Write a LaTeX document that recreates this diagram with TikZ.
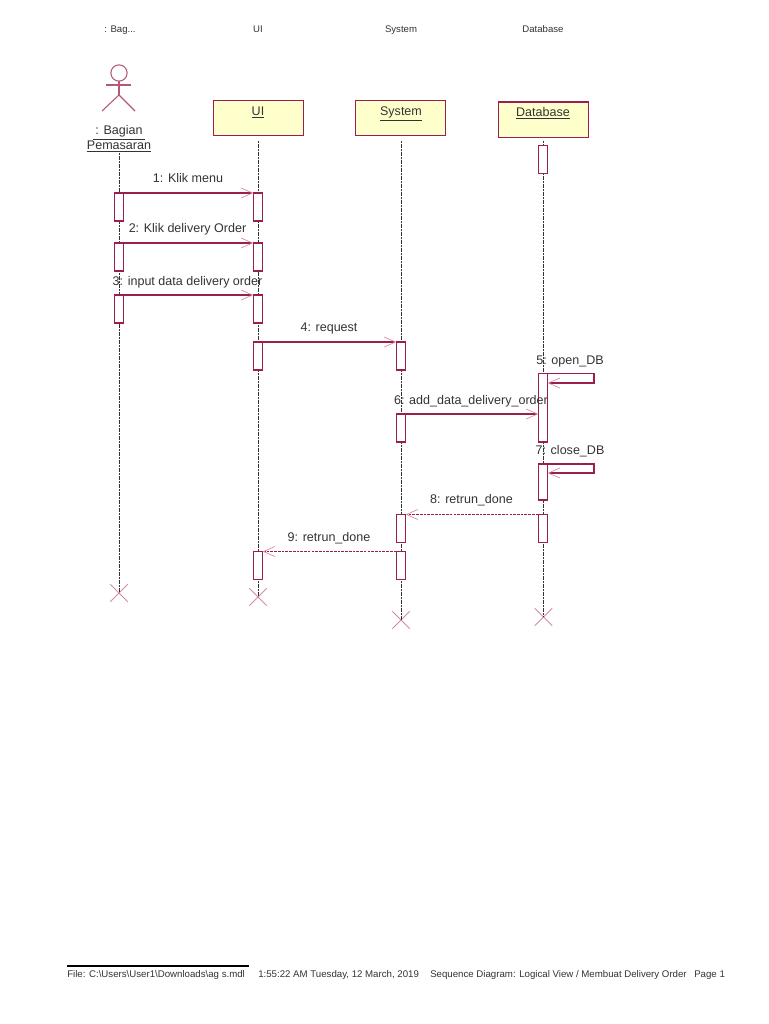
\documentclass[tikz,border=0pt]{standalone}
\usepackage{fontspec}
\setmainfont{Liberation Sans}
\usetikzlibrary{arrows.meta,shapes.misc}
\definecolor{umlline}{HTML}{9B1F4E}
\definecolor{umltip}{HTML}{D58AA6}
\definecolor{umlfill}{HTML}{FFFFCC}
\definecolor{umltext}{HTML}{333333}
\tikzset{
  x=0.75pt,y=-0.75pt,
  obj/.style={draw=umlline,fill=umlfill,line width=1pt,minimum width=67.5pt,minimum height=26.5pt,inner sep=0pt,outer sep=0pt},
  objtext/.style={font=\fontsize{9.4}{10}\selectfont,text=umltext,inner sep=0pt,text height=6.8pt,text depth=1.8pt,yshift=-0.75pt},
  act/.style={draw=umlline,fill=white,line width=1pt,minimum width=7pt,minimum height=#1*0.75pt,inner sep=0pt,outer sep=0pt,anchor=north},
  life/.style={draw=black!80,line width=0.7pt,dash pattern=on 1.4pt off 0.6pt},
  msg/.style={draw=umlline,line width=0.9pt,-{Straight Barb[length=8.5pt,width=7.5pt,color=umltip,line width=0.5pt]}},
  ret/.style={msg,line width=1pt,dash pattern=on 2pt off 0.8pt},
  lbl/.style={font=\fontsize{9.4}{10}\selectfont,text=umltext,inner sep=0pt,text height=6.8pt,text depth=1.8pt,yshift=-0.75pt},
  head/.style={font=\fontsize{7.2}{8}\selectfont,text=umltext,inner sep=0pt,text height=5.2pt,text depth=1pt,yshift=-0.75pt},
  foot/.style={font=\fontsize{7.25}{8}\selectfont,text=umltext,inner sep=0pt,anchor=west,text height=5.2pt,text depth=1.4pt,yshift=-1.2pt},
  kill/.style={cross out,draw=umltip,line width=0.7pt,minimum size=13pt,inner sep=0pt,outer sep=0pt},
  actorline/.style={draw=umlline!75,line width=0.8pt},
}
\begin{document}
\begin{tikzpicture}
\useasboundingbox[fill=white] (0,0) rectangle (768,1024);
% column headings
\node[head] (h1) at (120,29) {: Bag...};
\node[head] (h2) at (258,29) {UI};
\node[head] (h3) at (401,29) {System};
\node[head] (h4) at (543,29) {Database};
% actor
\node[circle,draw=umlline!75,line width=0.8pt,minimum size=12.2pt,inner sep=0pt,outer sep=0pt] (ahead) at (119,73) {};
\coordinate (aarmL) at (106,85);
\coordinate (aarmR) at (131,85);
\coordinate (ahip) at (119,95);
\coordinate (alegL) at (102,111);
\coordinate (alegR) at (135,111);
\draw[actorline] (ahead.south) -- (ahip);
\draw[actorline] (aarmL) -- (aarmR);
\draw[actorline] (alegL) -- (ahip) -- (alegR);
\node[objtext] (aname1) at (119,130) {\underline{\,: Bagian\,}};
\node[objtext] (aname2) at (119,145) {\underline{Pemasaran}};
% object boxes
\node[obj] (ui) at (258.5,118) {};
\node[obj] (sys) at (400.5,118) {};
\node[obj] (db) at (543.5,119.5) {};
\node[objtext] (uit) at (258,111) {\underline{UI}};
\node[objtext] (syst) at (401,111) {\underline{System}};
\node[objtext] (dbt) at (543,112) {\underline{Database}};
% lifeline ends
\coordinate (l1) at (119,153);
\coordinate (l2) at (258,141);
\coordinate (l3) at (401,141);
\coordinate (l4) at (543.5,141);
\node[kill] (x1) at (119,593) {};
\node[kill] (x2) at (258,597) {};
\node[kill] (x3) at (401,620) {};
\node[kill] (x4) at (543.5,617) {};
\draw[life] (l1) -- (x1.center);
\draw[life] (l2) -- (x2.center);
\draw[life] (l3) -- (x3.center);
\draw[life] (l4) -- (x4.center);
% activations
\node[act=28] (a1) at (119,193) {};
\node[act=28] (a2) at (119,243) {};
\node[act=28] (a3) at (119,295) {};
\node[act=28] (u1) at (258,193) {};
\node[act=28] (u2) at (258,243) {};
\node[act=28] (u3) at (258,295) {};
\node[act=28] (u4) at (258,342) {};
\node[act=28] (u5) at (258,551.5) {};
\node[act=28] (s1) at (401,342) {};
\node[act=28] (s2) at (401,414) {};
\node[act=28] (s3) at (401,514.5) {};
\node[act=28] (s4) at (401,551.5) {};
\node[act=28] (d0) at (543,145.5) {};
\node[act=68.5] (d1) at (543,373.5) {};
\node[act=36] (d2) at (543,464) {};
\node[act=28] (d3) at (543,514.5) {};
% messages
\draw[msg] (a1.north east) -- (u1.north west);
\draw[msg] (a2.north east) -- (u2.north west);
\draw[msg] (a3.north east) -- (u3.north west);
\draw[msg] (u4.north east) -- (s1.north west);
\coordinate (self5) at (594,383);
\coordinate (self7) at (594,473);
\draw[msg] (d1.north east) -| (self5) -- (d1.east |- self5);
\draw[msg] (s2.north east) -- (s2.north east -| d1.west);
\draw[msg] (d2.north east) -| (self7) -- (d2.east |- self7);
\draw[ret] (d3.north west) -- (s3.north east);
\draw[ret] (s4.north west) -- (u5.north east);
% message labels
\node[lbl] (m1) at (188,178.5) {1: Klik menu};
\node[lbl] (m2) at (187.5,228) {2: Klik delivery Order};
\node[lbl] (m3) at (187.5,281) {3: input data delivery order};
\node[lbl] (m4) at (329,327) {4: request};
\node[lbl] (m5) at (570,360) {5: open\_DB};
\node[lbl] (m6) at (471,400) {6: add\_data\_delivery\_order};
\node[lbl] (m7) at (570,450) {7: close\_DB};
\node[lbl] (m8) at (471.5,499.5) {8: retrun\_done};
\node[lbl] (m9) at (329,537) {9: retrun\_done};
% footer
\coordinate (fa) at (67,966);
\coordinate (fb) at (249,966);
\draw[black,line width=0.8pt] (fa) -- (fb);
\node[foot] (f1) at (67,973) {File: C:\textbackslash Users\textbackslash User1\textbackslash Downloads\textbackslash ag s.mdl};
\node[foot] (f2) at (258,973) {1:55:22 AM Tuesday, 12 March, 2019};
\node[foot] (f3) at (430,973) {Sequence Diagram: Logical View / Membuat Delivery Order};
\node[foot] (f4) at (694,973) {Page 1};
\end{tikzpicture}
\end{document}
